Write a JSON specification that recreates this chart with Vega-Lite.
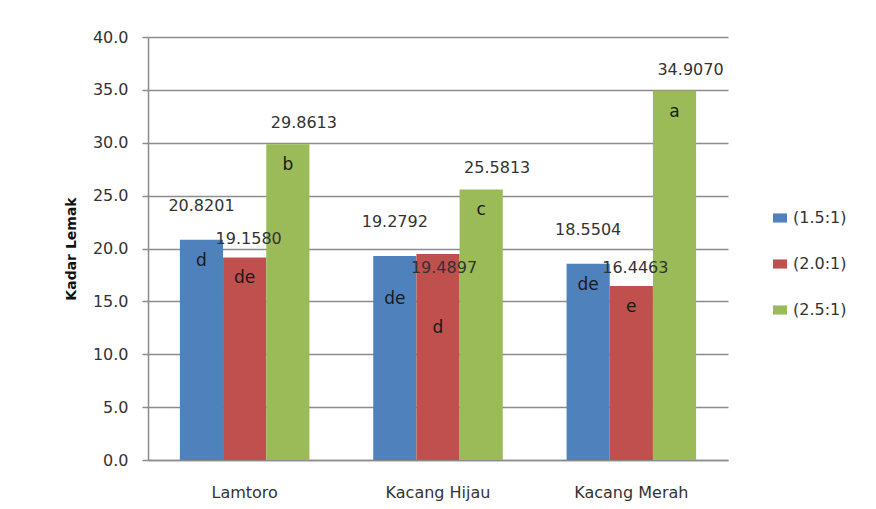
{
  "$schema": "https://vega.github.io/schema/vega-lite/v6.json",
  "width": 580,
  "height": 423,
  "autosize": {"type": "none"},
  "padding": {"left": 148, "top": 37, "right": 148, "bottom": 49},
  "background": "white",
  "config": {
    "view": {"stroke": null},
    "font": "DejaVu Sans",
    "axis": {"labelFont": "DejaVu Sans", "titleFont": "DejaVu Sans"}
  },
  "data": {
    "values": [
      {"kategori": "Lamtoro", "rasio": "(1.5:1)", "nilai": 20.8201, "huruf": "d"},
      {"kategori": "Lamtoro", "rasio": "(2.0:1)", "nilai": 19.1580, "huruf": "de"},
      {"kategori": "Lamtoro", "rasio": "(2.5:1)", "nilai": 29.8613, "huruf": "b"},
      {"kategori": "Kacang Hijau", "rasio": "(1.5:1)", "nilai": 19.2792, "huruf": "de"},
      {"kategori": "Kacang Hijau", "rasio": "(2.0:1)", "nilai": 19.4897, "huruf": "d"},
      {"kategori": "Kacang Hijau", "rasio": "(2.5:1)", "nilai": 25.5813, "huruf": "c"},
      {"kategori": "Kacang Merah", "rasio": "(1.5:1)", "nilai": 18.5504, "huruf": "de"},
      {"kategori": "Kacang Merah", "rasio": "(2.0:1)", "nilai": 16.4463, "huruf": "e"},
      {"kategori": "Kacang Merah", "rasio": "(2.5:1)", "nilai": 34.9070, "huruf": "a"}
    ]
  },
  "encoding": {
    "x": {
      "field": "kategori",
      "type": "nominal",
      "sort": ["Lamtoro", "Kacang Hijau", "Kacang Merah"],
      "scale": {"paddingInner": 0.33, "paddingOuter": 0.165},
      "axis": {
        "title": null,
        "labelAngle": 0,
        "labelFontSize": 16,
        "labelColor": "#333333",
        "labelPadding": 24,
        "ticks": false,
        "domainColor": "#8c8c8c",
        "domainWidth": 1.5
      }
    },
    "xOffset": {
      "field": "rasio",
      "type": "nominal",
      "sort": ["(1.5:1)", "(2.0:1)", "(2.5:1)"],
      "scale": {"paddingInner": 0, "paddingOuter": 0}
    },
    "y": {
      "field": "nilai",
      "type": "quantitative",
      "scale": {"domain": [0, 40], "nice": false},
      "axis": {
        "title": "Kadar Lemak",
        "titleFontSize": 14,
        "titleFontWeight": "bold",
        "titleColor": "#111111",
        "titlePadding": 14,
        "values": [0, 5, 10, 15, 20, 25, 30, 35, 40],
        "format": ".1f",
        "labelFontSize": 16,
        "labelColor": "#333333",
        "labelPadding": 14,
        "tickSize": 6,
        "tickColor": "#8c8c8c",
        "tickWidth": 1.5,
        "domainColor": "#8c8c8c",
        "domainWidth": 1.5,
        "grid": true,
        "gridColor": "#8c8c8c",
        "gridWidth": 1.5
      }
    }
  },
  "layer": [
    {
      "mark": {"type": "bar"},
      "encoding": {
        "color": {
          "field": "rasio",
          "type": "nominal",
          "sort": ["(1.5:1)", "(2.0:1)", "(2.5:1)"],
          "scale": {"domain": ["(1.5:1)", "(2.0:1)", "(2.5:1)"], "range": ["#4F81BD", "#C0504D", "#9BBB59"]},
          "legend": {
            "title": null,
            "orient": "none",
            "legendX": 624,
            "legendY": 173,
            "symbolType": "M-1,-0.65H1V0.65H-1Z",
            "symbolSize": 196,
            "symbolStrokeWidth": 0,
            "labelFontSize": 16,
            "labelColor": "#333333",
            "labelFont": "DejaVu Sans",
            "rowPadding": 30,
            "labelOffset": 5
          }
        }
      }
    },
    {
      "transform": [{"filter": "datum.rasio == '(1.5:1)'"}],
      "mark": {"type": "text", "dy": -34, "fontSize": 16, "color": "#333333", "baseline": "middle"},
      "encoding": {
        "text": {"field": "nilai", "type": "quantitative", "format": ".4f"}
      }
    },
    {
      "transform": [{"filter": "datum.rasio == '(2.0:1)' && datum.kategori != 'Kacang Hijau'"}],
      "mark": {"type": "text", "dy": -18, "dx": 4, "fontSize": 16, "color": "#333333", "baseline": "middle"},
      "encoding": {
        "text": {"field": "nilai", "type": "quantitative", "format": ".4f"}
      }
    },
    {
      "transform": [{"filter": "datum.rasio == '(2.0:1)' && datum.kategori == 'Kacang Hijau'"}],
      "mark": {"type": "text", "dy": 14, "dx": 6, "fontSize": 16, "color": "#333333", "baseline": "middle"},
      "encoding": {
        "text": {"field": "nilai", "type": "quantitative", "format": ".4f"}
      }
    },
    {
      "transform": [{"filter": "datum.rasio == '(2.5:1)'"}],
      "mark": {"type": "text", "dy": -21, "dx": 16, "fontSize": 16, "color": "#333333", "baseline": "middle"},
      "encoding": {
        "text": {"field": "nilai", "type": "quantitative", "format": ".4f"}
      }
    },
    {
      "transform": [{"filter": "datum.kategori != 'Kacang Hijau' || datum.rasio == '(2.5:1)'"}],
      "mark": {"type": "text", "dy": 21, "fontSize": 17, "color": "#1a1a1a", "baseline": "middle"},
      "encoding": {
        "text": {"field": "huruf", "type": "nominal"}
      }
    },
    {
      "transform": [{"filter": "datum.kategori == 'Kacang Hijau' && datum.rasio == '(1.5:1)'"}],
      "mark": {"type": "text", "dy": 43, "fontSize": 17, "color": "#1a1a1a", "baseline": "middle"},
      "encoding": {
        "text": {"field": "huruf", "type": "nominal"}
      }
    },
    {
      "transform": [{"filter": "datum.kategori == 'Kacang Hijau' && datum.rasio == '(2.0:1)'"}],
      "mark": {"type": "text", "dy": 74, "fontSize": 17, "color": "#1a1a1a", "baseline": "middle"},
      "encoding": {
        "text": {"field": "huruf", "type": "nominal"}
      }
    }
  ]
}
